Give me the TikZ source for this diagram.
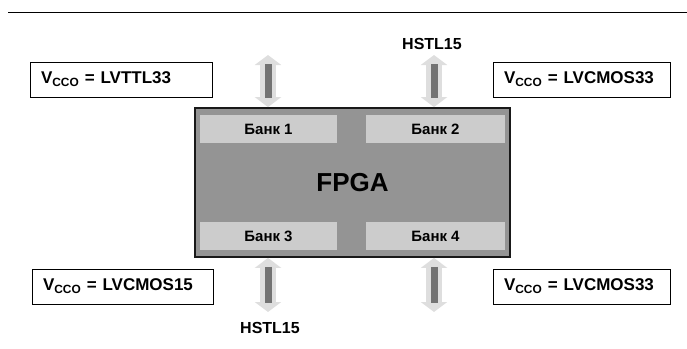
\documentclass[tikz,border=0pt]{standalone}
\usepackage{fontspec}
\setmainfont{Liberation Sans}
\usetikzlibrary{positioning,arrows.meta}
\tikzset{
  vccbox/.style={draw, line width=0.9pt, fill=white,
    font=\fontsize{17}{19}\selectfont\bfseries, inner xsep=11pt, inner ysep=0pt,
    align=left, minimum height=35pt, text depth=3pt},
  bankbox/.style={fill=black!20, font=\fontsize{15}{17}\selectfont\bfseries,
    minimum height=28pt, inner sep=0pt},
  fpgabox/.style={draw=black!90, line width=1.8pt, fill=black!42,
    font=\fontsize{26}{28}\selectfont\bfseries,
    minimum width=315pt, minimum height=149pt, inner sep=0pt},
  iohalo/.style={{Triangle[length=10pt,width=26pt]}-{Triangle[length=10pt,width=26pt]},
    line width=16pt, draw=black!13},
  iocore/.style={line width=7pt, draw=black!55, shorten <=9pt, shorten >=9pt},
  stdlabel/.style={font=\fontsize{16}{18}\selectfont\bfseries, inner sep=0pt},
}

\begin{document}
\begin{tikzpicture}[x=1pt, y=-1pt]
  \useasboundingbox (0,0) rectangle (687,348);
  \draw[line width=1pt] (8,12) -- (687,12);
  % FPGA with banks
  \node[fpgabox] at (352.5,182.5) (fpga) {FPGA};
  \node[bankbox, minimum width=137pt] at (268.5,129) (bank1) {Банк 1};
  \node[bankbox, minimum width=139pt] at (435.5,129) (bank2) {Банк 2};
  \node[bankbox, minimum width=137pt] at (268.5,236) (bank3) {Банк 3};
  \node[bankbox, minimum width=139pt] at (435.5,236) (bank4) {Банк 4};
  % Vcco boxes
  \node[vccbox, minimum width=182pt, text width=160pt] at (121,79.5) (vccA) {V\textsubscript{CCO} = LVTTL33};
  \node[vccbox, minimum width=177pt, text width=155pt] at (581.5,79.5) (vccB) {V\textsubscript{CCO} = LVCMOS33};
  \node[vccbox, minimum width=181pt, text width=159pt] at (122.5,286.5) (vccC) {V\textsubscript{CCO} = LVCMOS15};
  \node[vccbox, minimum width=177pt, text width=155pt] at (581.5,286.5) (vccD) {V\textsubscript{CCO} = LVCMOS33};
  % standards
  \node[stdlabel] at (432,44) (hstlT) {HSTL15};
  \node[stdlabel] at (270,328) (hstlB) {HSTL15};
  % I/O arrows
  \coordinate (io1) at (268,55);
  \coordinate (io2) at (434,55);
  \coordinate (io3) at (268,312);
  \coordinate (io4) at (434,312);
  \foreach \c in {io1,io2} {
    \draw[iohalo] (\c) -- (\c |- fpga.north);
    \draw[iocore] (\c) -- (\c |- fpga.north);
  }
  \foreach \c in {io3,io4} {
    \draw[iohalo] (fpga.south -| \c) -- (\c);
    \draw[iocore] (fpga.south -| \c) -- (\c);
  }
\end{tikzpicture}
\end{document}
